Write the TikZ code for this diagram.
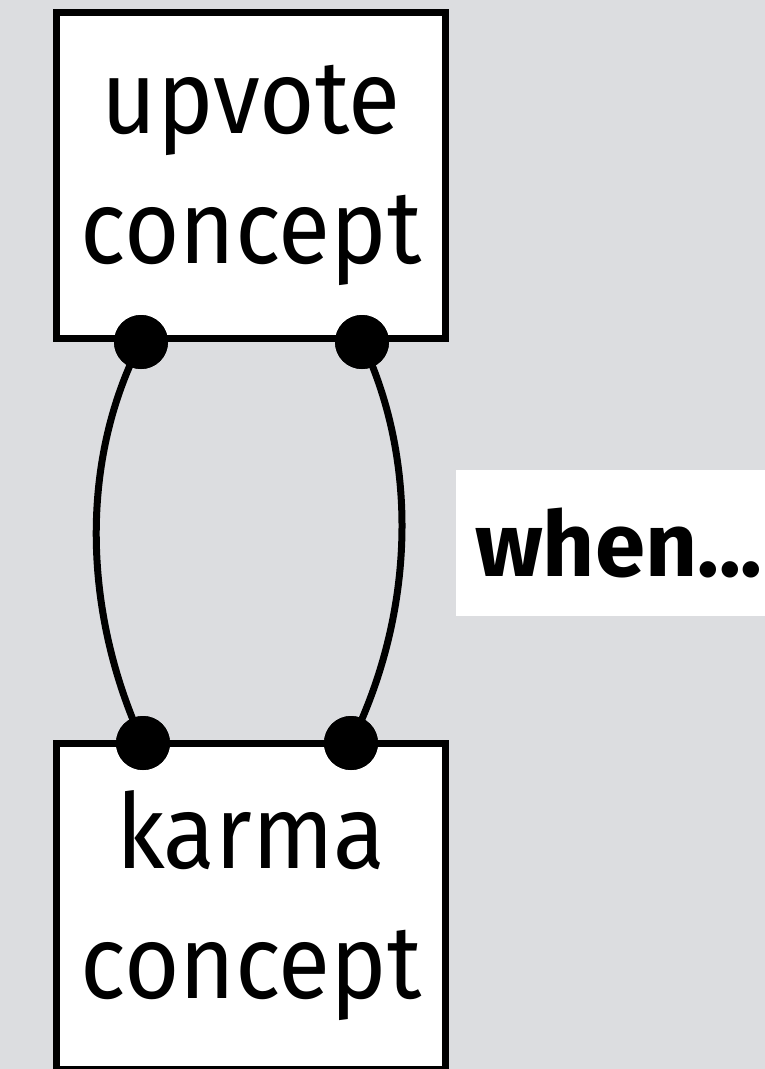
\documentclass[tikz,border=0pt]{standalone}
\usepackage{fontspec}
\setmainfont{Fira Sans}[FakeStretch=0.915]
\newfontfamily\negrita{Fira Sans}
\definecolor{fondo}{HTML}{DCDDE0}

\begin{document}
\begin{tikzpicture}[
    x = 1pt,
    y = -1pt,
    concepto/.style = {
        draw,
        fill           = white,
        line width     = 7pt,
        minimum width  = 389pt,
        minimum height = 326pt,
        inner sep      = 0pt,
        align          = center,
        font           = \fontsize{104}{130}\selectfont
    },
    puerto/.style = {
        circle,
        fill         = black,
        inner sep    = 0pt,
        minimum size = 54pt
    },
    enlace/.style = {
        line width = 7pt
    },
    etiq/.style = {
        fill           = white,
        anchor         = west,
        inner xsep     = 19pt,
        minimum height = 146pt,
        text width     = 300pt,
        font           = \negrita\fontsize{90.5}{110}\selectfont\bfseries
    }
]

% ================================================================
%  FONDO (765 x 1069, y hacia abajo)
% ================================================================

\fill[fondo] (0, 0) rectangle (765, 1069);
\useasboundingbox (0, 0) rectangle (765, 1069);

% ================================================================
%  CONCEPTOS
% ================================================================

\node[concepto] (upvote) at (251, 175) {upvote\\concept};
\node[concepto] (karma)  at (251, 906) {karma\\concept};

% ================================================================
%  ETIQUETA DE LA SINCRONIZACION
% ================================================================

\node[etiq] (cuando) at (456, 543) {when...};

% ================================================================
%  PUERTOS (sobre los bordes de los conceptos)
% ================================================================

\node[puerto] (upA) at (141, 342) {};
\node[puerto] (upB) at (362, 342) {};
\node[puerto] (kaA) at (143, 743) {};
\node[puerto] (kaB) at (351, 743) {};

% ================================================================
%  ENLACES (curvas entre puertos)
% ================================================================

\draw[enlace] (upA.center) .. controls (80, 460) and (82, 610) .. (kaA.center);
\draw[enlace] (upB.center) .. controls (418, 460) and (416, 610) .. (kaB.center);

% puertos encima de las curvas
\foreach \p in {upA, upB, kaA, kaB}{
    \fill (\p.center) circle (27);
}

\end{tikzpicture}
\end{document}
